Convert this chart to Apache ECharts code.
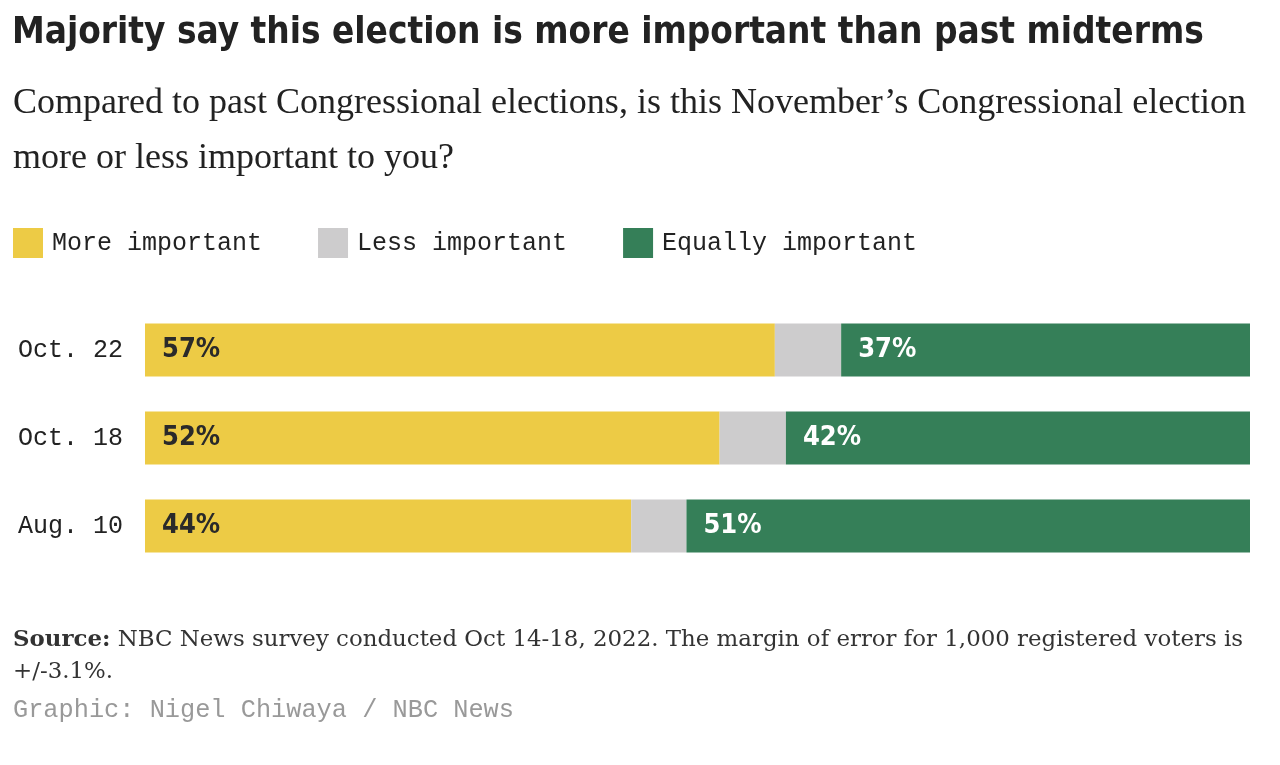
<!DOCTYPE html>
<html>
<head>
<meta charset="utf-8">
<script src="https://cdn.jsdelivr.net/npm/echarts@6/dist/echarts.min.js"></script>
<style>
html,body{margin:0;padding:0;background:#fff;}
#chart{width:1280px;height:765px;}
</style>
</head>
<body>
<div id="chart"></div>
<script>
const categories = ['Oct. 22', 'Oct. 18', 'Aug. 10'];
const seriesNames = ['More important', 'Less important', 'Equally important'];
const moreImportant = [57, 52, 44];
const lessImportant = [6, 6, 5];
const equallyImportant = [37, 42, 51];
const colors = ['#EDCB45', '#CDCCCD', '#357F58'];

const titleText = 'Majority say this election is more important than past midterms';
const subtitleText = 'Compared to past Congressional elections, is this November\u2019s Congressional election\nmore or less important to you?';
const sourceText = '{b|Source:} NBC News survey conducted Oct 14-18, 2022. The margin of error for 1,000 registered voters is\n+/-3.1%.';
const creditText = 'Graphic: Nigel Chiwaya / NBC News';

const mono = "'Liberation Mono', 'DejaVu Sans Mono', monospace";
const narrow = "'DejaVu Sans Condensed', 'Liberation Sans', sans-serif";
const serif = "'Liberation Serif', 'DejaVu Serif', serif";
const serif2 = "'DejaVu Serif', 'Liberation Serif', serif";

const chart = echarts.init(document.getElementById('chart'), null, {renderer: 'canvas'});

function labelFor(color) {
  return {
    show: true,
    position: 'insideLeft',
    distance: 17,
    formatter: '{c}%',
    color: color,
    fontFamily: narrow,
    fontWeight: 'bold',
    fontSize: 27
  };
}

chart.setOption({
  backgroundColor: '#ffffff',
  animation: false,
  title: [
    {
      text: titleText,
      left: 12, top: 11, padding: 0,
      textStyle: {fontFamily: narrow, fontWeight: 'bold', fontSize: 36.6, color: '#222222', lineHeight: 44}
    },
    {
      text: subtitleText,
      left: 13, top: 76, padding: 0,
      textStyle: {fontFamily: serif, fontWeight: 'normal', fontSize: 36, color: '#222222', lineHeight: 55}
    },
    {
      text: sourceText,
      left: 13, top: 624, padding: 0,
      textStyle: {fontFamily: serif2, fontWeight: 'normal', fontSize: 22.9, color: '#333333', lineHeight: 32,
        rich: {b: {fontFamily: serif2, fontWeight: 'bold', fontSize: 22.9, color: '#333333'}}}
    },
    {
      text: creditText,
      left: 13, top: 698, padding: 0,
      textStyle: {fontFamily: mono, fontWeight: 'normal', fontSize: 25.3, color: '#999999'}
    }
  ],
  legend: {
    data: seriesNames,
    left: 13, top: 228, padding: 0,
    itemWidth: 30, itemHeight: 30, itemGap: 56,
    icon: 'rect',
    selectedMode: false,
    textStyle: {fontFamily: mono, fontSize: 25, color: '#222222', padding: [0, 0, 0, 4]}
  },
  grid: {left: 145, right: 30, top: 306, height: 264, containLabel: false},
  xAxis: {
    type: 'value', min: 0, max: 100, show: false
  },
  yAxis: {
    type: 'category', data: categories, inverse: true,
    axisLine: {show: false}, axisTick: {show: false}, splitLine: {show: false},
    axisLabel: {fontFamily: mono, fontSize: 25, color: '#222222', margin: 22}
  },
  series: [
    {name: seriesNames[0], type: 'bar', stack: 'total', data: moreImportant, barWidth: 53,
      itemStyle: {color: colors[0]}, label: labelFor('#2a2a2a')},
    {name: seriesNames[1], type: 'bar', stack: 'total', data: lessImportant, barWidth: 53,
      itemStyle: {color: colors[1]}, label: {show: false}},
    {name: seriesNames[2], type: 'bar', stack: 'total', data: equallyImportant, barWidth: 53,
      itemStyle: {color: colors[2]}, label: labelFor('#ffffff')}
  ]
});
</script>
</body>
</html>
